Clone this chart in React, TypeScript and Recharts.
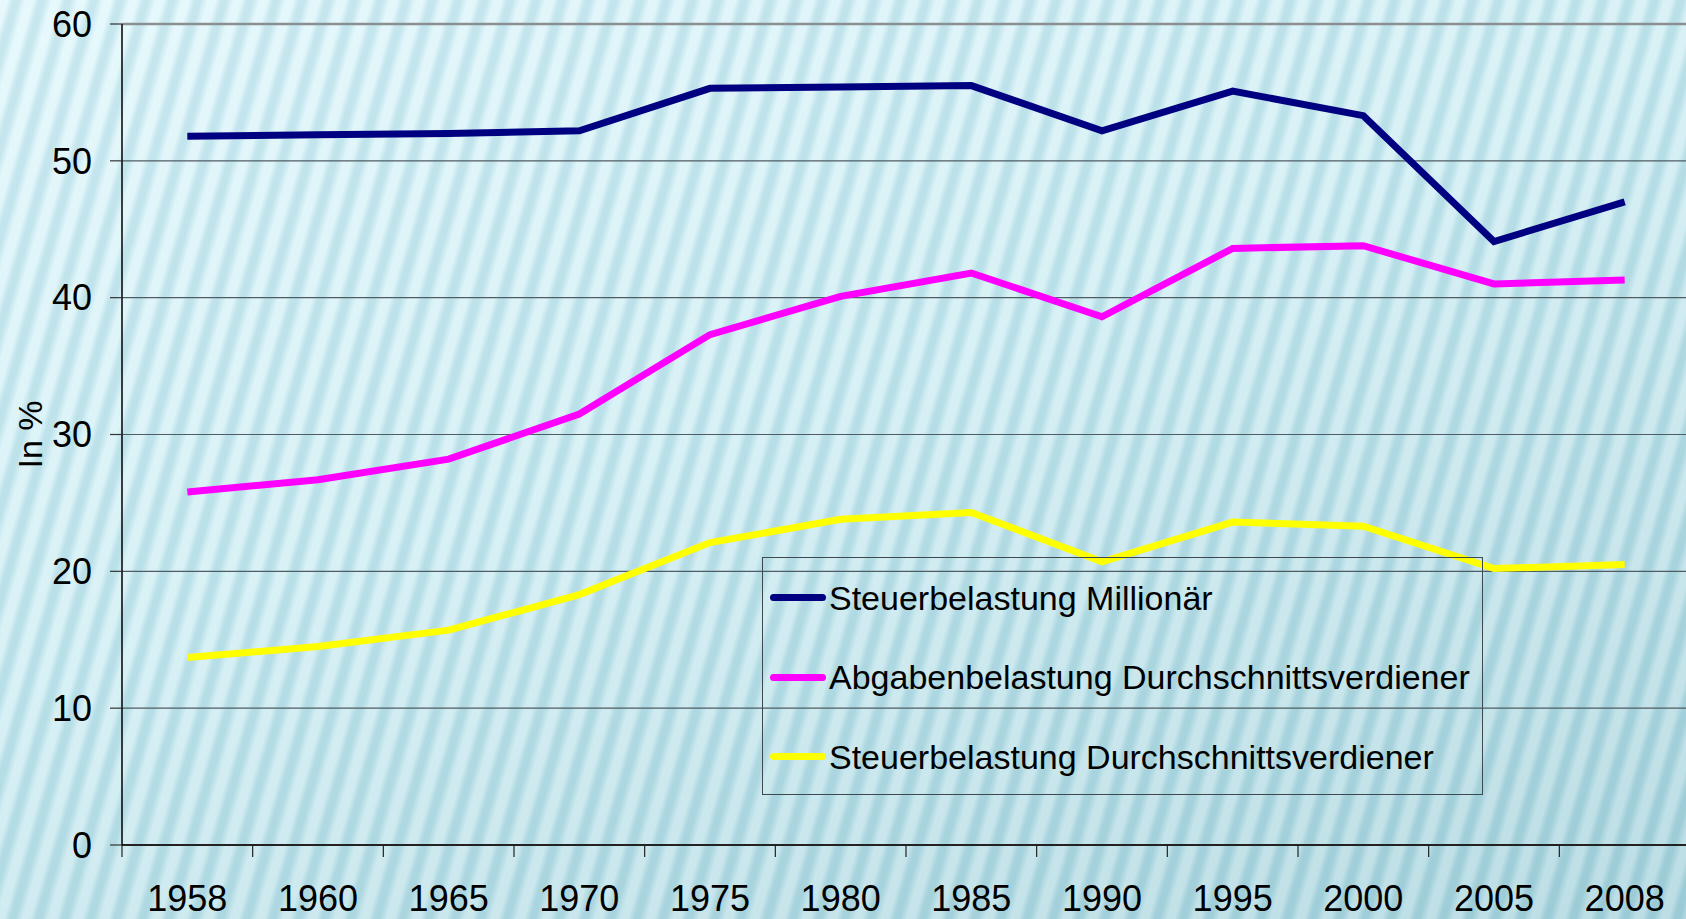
import React from 'react';
import { LineChart, Line, XAxis, YAxis, CartesianGrid, Legend, ReferenceLine } from 'recharts';

const years = ['1958', '1960', '1965', '1970', '1975', '1980', '1985', '1990', '1995', '2000', '2005', '2008'];
const millionaer = [51.8, 51.9, 52.0, 52.2, 55.3, 55.4, 55.5, 52.2, 55.1, 53.3, 44.1, 47.0];
const abgabenDurchschnitt = [25.8, 26.7, 28.2, 31.5, 37.3, 40.1, 41.8, 38.6, 43.6, 43.8, 41.0, 41.3];
const steuerDurchschnitt = [13.7, 14.5, 15.7, 18.3, 22.1, 23.8, 24.3, 20.7, 23.6, 23.3, 20.2, 20.5];
const yTicks = [0, 10, 20, 30, 40, 50, 60];

const SERIES = [
  { key: 'millionaer', name: 'Steuerbelastung Millionär', color: '#000080' },
  { key: 'abgaben', name: 'Abgabenbelastung Durchschnittsverdiener', color: '#FF00FF' },
  { key: 'steuer', name: 'Steuerbelastung Durchschnittsverdiener', color: '#FFFF00' },
];

const data = years.map((year, i) => ({
  year,
  millionaer: millionaer[i],
  abgaben: abgabenDurchschnitt[i],
  steuer: steuerDurchschnitt[i],
}));

const FONT = '"Liberation Sans", Arial, sans-serif';
const CHART_W = 1700;
const CHART_H = 919;
const Y_AXIS_W = 122;
const MARGIN = { top: 24, right: 10, bottom: 0, left: 0 };
const BAND = (CHART_W - Y_AXIS_W - MARGIN.right) / years.length;

const XTick = (props: any) => {
  const { x, y, payload, index } = props;
  const last = index === years.length - 1;
  return (
    <g>
      <line x1={x - BAND / 2} y1={y} x2={x - BAND / 2} y2={y + 12} stroke="#222" strokeWidth={1.2} />
      {last && <line x1={x + BAND / 2} y1={y} x2={x + BAND / 2} y2={y + 12} stroke="#222" strokeWidth={1.2} />}
      <text x={x} y={y + 66} textAnchor="middle" fontSize={36} fontFamily={FONT} fill="#000">
        {payload.value}
      </text>
    </g>
  );
};

const LegendBox = () => (
  <div
    style={{
      width: '100%',
      height: '100%',
      boxSizing: 'border-box',
      border: '1.5px solid #3c4a50',
      fontFamily: FONT,
      fontSize: 34,
      color: '#000',
      paddingTop: 0,
    }}
  >
    {SERIES.map((s) => (
      <div key={s.key} style={{ display: 'flex', alignItems: 'center', height: 79.5 }}>
        <div style={{ width: 56, height: 7, borderRadius: 4, background: s.color, marginLeft: 7, marginRight: 3 }} />
        <span style={{ lineHeight: 1 }}>{s.name}</span>
      </div>
    ))}
  </div>
);

export default function App() {
  return (
    <div
      style={{
        position: 'absolute',
        left: 0,
        top: 0,
        width: 1686,
        height: 919,
        overflow: 'hidden',
        background:
          'repeating-linear-gradient(106deg, rgba(255,255,255,0.22) 0px, rgba(255,255,255,0.22) 7px, rgba(90,160,180,0.18) 13px, rgba(90,160,180,0.18) 18px, rgba(255,255,255,0.22) 25px), linear-gradient(160deg, #e0f7fc 0%, #cdedf3 45%, #a9d4dd 100%)',
      }}
    >
      <LineChart width={CHART_W} height={CHART_H} data={data} margin={MARGIN}>
        <CartesianGrid vertical={false} stroke="#4e5d63" strokeWidth={1.2} />
        <ReferenceLine y={60} stroke="#8a8f92" strokeWidth={2.5} />
        <XAxis
          dataKey="year"
          height={74}
          padding={{ left: BAND / 2, right: BAND / 2 }}
          tickLine={false}
          tickSize={0}
          tickMargin={0}
          axisLine={{ stroke: '#222', strokeWidth: 2 }}
          tick={<XTick />}
          interval={0}
        />
        <YAxis
          width={Y_AXIS_W}
          domain={[0, 60]}
          ticks={yTicks}
          tickSize={12}
          tickMargin={18}
          axisLine={{ stroke: '#000', strokeWidth: 1.5 }}
          tickLine={{ stroke: '#333', strokeWidth: 1.2 }}
          tick={{ fontSize: 36, fontFamily: FONT, fill: '#000' }}
          label={{
            value: 'In %',
            angle: -90,
            position: 'insideLeft',
            offset: 30,
            style: { fontSize: 34, fontFamily: FONT, fill: '#000', textAnchor: 'middle' },
          }}
        />
        <Legend
          layout="vertical"
          align="center"
          verticalAlign="middle"
          wrapperStyle={{ left: 762, top: 557, width: 721, height: 238 }}
          content={<LegendBox />}
        />
        {SERIES.map((s) => (
          <Line
            key={s.key}
            type="linear"
            dataKey={s.key}
            name={s.name}
            stroke={s.color}
            strokeWidth={7}
            strokeLinejoin="miter"
            dot={false}
            activeDot={false}
            isAnimationActive={false}
          />
        ))}
      </LineChart>
    </div>
  );
}
